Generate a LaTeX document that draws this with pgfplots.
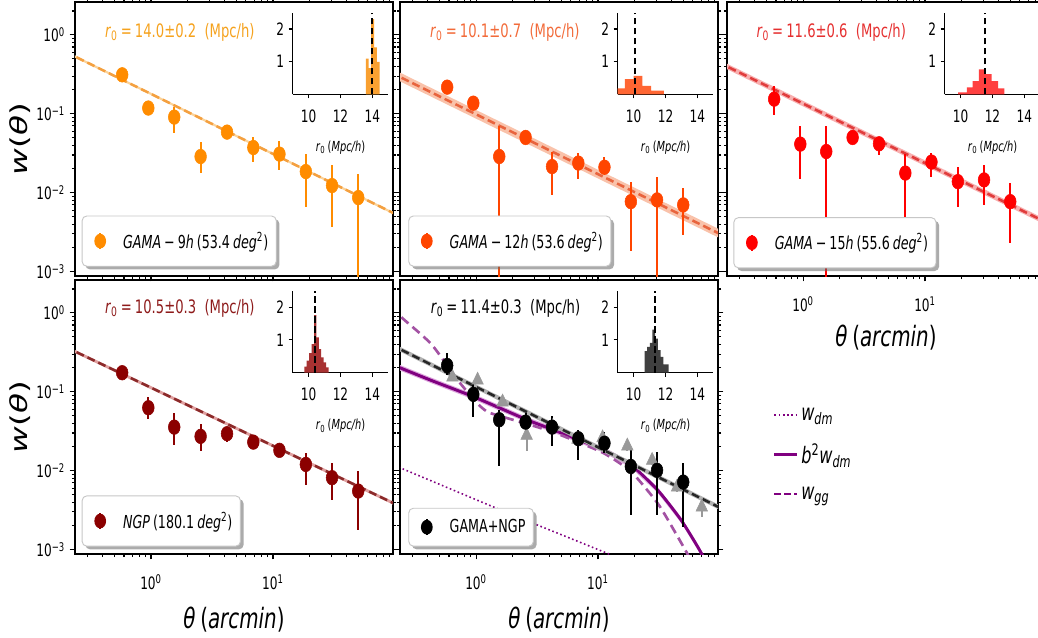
\documentclass[border=0pt]{standalone}
\usepackage{pgfplots}
\pgfplotsset{compat=1.18}
\usepackage{pgfplotstable}
\usetikzlibrary{shadows}
\usepackage{fontspec}
\setmainfont{DejaVu Sans}[FakeStretch=0.71]
\newfontfamily\yfont{DejaVu Sans}[FakeStretch=1.40]

\newcommand\ticksize{\fontsize{12.8}{14}\selectfont}
\newcommand\annsize{\fontsize{13.9}{16}\selectfont}
\newcommand\legsize{\fontsize{13.4}{16}\selectfont}
\newcommand\insize{\fontsize{10.4}{12}\selectfont}
\newcommand\labsize{\fontsize{21}{24}\selectfont}
\newcommand\ylabsize{\fontsize{17.5}{20}\selectfont}
\newcommand\modsize{\fontsize{17}{19}\selectfont}

\definecolor{c9}{HTML}{FF8C00}
\definecolor{c9t}{HTML}{F5A21E}
\definecolor{c9l}{HTML}{F4A040}
\definecolor{c9b}{HTML}{FBD39A}
\definecolor{c9h}{HTML}{F9A030}
\definecolor{c12}{HTML}{FF4500}
\definecolor{c12t}{HTML}{F26B3A}
\definecolor{c12l}{HTML}{E8643E}
\definecolor{c12b}{HTML}{F9C2AA}
\definecolor{c12h}{HTML}{FF6633}
\definecolor{c15}{HTML}{FF0000}
\definecolor{c15t}{HTML}{E53030}
\definecolor{c15l}{HTML}{E03C3C}
\definecolor{c15b}{HTML}{F8B0B0}
\definecolor{c15h}{HTML}{FF4040}
\definecolor{cN}{HTML}{8B0000}
\definecolor{cNt}{HTML}{8E1B1B}
\definecolor{cNl}{HTML}{8B2A2A}
\definecolor{cNb}{HTML}{E0A0A0}
\definecolor{cNh}{HTML}{A83232}
\definecolor{cAh}{HTML}{404040}
\definecolor{pur}{HTML}{800080}
\definecolor{purb}{HTML}{DDA6DD}
\definecolor{purd}{HTML}{A352A3}

\newcommand\rzero[2]{\textit{r}\textsubscript{0}\,=\,#1±#2\ \ (Mpc/h)}
\newcommand\ilab{\textit{r}\textsubscript{0}\,(\textit{Mpc/h})}
\newcommand\decade[1]{10\textsuperscript{#1}}

% w(theta): theta [arcmin], w, lower and upper end of the error bar
\pgfplotstableread{
x     y       lo       hi
0.58  0.311   0.28     0.345
0.95  0.118   0.10     0.135
1.55  0.0906  0.0568   0.123
2.55  0.0287  0.0177   0.0432
4.2   0.0585  0.050    0.066
6.9   0.0373  0.0244   0.0505
11.3  0.0308  0.0195   0.0445
18.6  0.0185  0.00667  0.031
30.5  0.0123  0.00372  0.0221
50    0.00867 0.0003   0.0173
}\gamaA
\pgfplotstableread{
x     y       lo       hi
0.58  0.217   0.195    0.24
0.95  0.136   0.122    0.15
1.55  0.0287  0.0003   0.0689
2.55  0.050   0.044    0.057
4.2   0.0214  0.00938  0.0332
6.9   0.0237  0.0148   0.0316
11.3  0.021   0.0185   0.0287
18.6  0.0077  0.00185  0.0138
30.5  0.0081  0.0003   0.0157
50    0.0070  0.00292  0.0114
}\gamaB
\pgfplotstableread{
x     y       lo       hi
0.58  0.153   0.0968   0.226
0.95  0.0412  0.0148   0.0689
1.55  0.0332  0.0003   0.0689
2.55  0.050   0.043    0.058
4.2   0.0416  0.0302   0.0505
6.9   0.0177  0.00475  0.031
11.3  0.0244  0.016    0.0322
18.6  0.0138  0.00667  0.0214
30.5  0.0145  0.0070   0.0225
50    0.0077  0.00229  0.0134
}\gamaC
\pgfplotstableread{
x     y       lo       hi
0.58  0.174   0.155    0.195
0.95  0.0627  0.0455   0.0855
1.55  0.0356  0.0209   0.0536
2.55  0.0272  0.0177   0.0385
4.2   0.0294  0.023    0.036
6.9   0.023   0.019    0.027
11.3  0.0181  0.015    0.021
18.6  0.012   0.00652  0.0167
30.5  0.00815 0.00421  0.0125
50    0.00552 0.00179  0.0098
}\ngp
\pgfplotstableread{
x     y       lo       hi
0.58  0.215   0.161    0.308
0.95  0.0925  0.0477   0.128
1.55  0.0442  0.0113   0.058
2.55  0.0412  0.0294   0.0536
4.2   0.0356  0.0203   0.0487
6.9   0.0254  0.0135   0.0324
11.3  0.0223  0.0167   0.0308
18.6  0.0113  0.00272  0.019
30.5  0.0101  0.00272  0.0172
50    0.00717 0.00193  0.0125
}\comb
\pgfplotstableread{
x     y       lo       hi
0.64  0.153   0.14     0.165
1.03  0.140   0.125    0.155
1.65  0.074   0.065    0.083
2.6   0.028   0.018    0.036
4.25  0.036   0.032    0.040
6.8   0.025   0.022    0.028
10.9  0.026   0.022    0.030
17.4  0.0205  0.018    0.023
27.8  0.0135  0.0118   0.0152
44.5  0.0062  0.0053   0.0072
71    0.00346 0.0026   0.0042
}\lit

% common look of the panels (no axis type keys in here)
\pgfplotsset{
  every axis/.append style={
    tick style={line width=0.8pt, black},
    axis line style={line width=0.9pt},
    tick label style={font=\ticksize},
  },
}

\begin{document}
\begin{tikzpicture}
\path[use as bounding box] (0pt,0pt) rectangle (778.5pt,-478.5pt);

% ---------------- GAMA-9h ----------------
\begin{axis}[xmode=log, ymode=log, scale only axis, width=238.5pt, height=205.5pt,
  xmin=0.238, xmax=96.4, ymin=8.8e-4, ymax=2.6,
  xtick={1,10}, ytick={0.001,0.01,0.1,1},
  minor xtick={0.3,0.4,0.5,0.6,0.7,0.8,0.9,2,3,4,5,6,7,8,9,20,30,40,50,60,70,80,90},
  minor ytick={0.002,0.003,0.004,0.005,0.006,0.007,0.008,0.009,0.02,0.03,0.04,0.05,0.06,0.07,0.08,0.09,0.2,0.3,0.4,0.5,0.6,0.7,0.8,0.9,2},
  xticklabels={}, yticklabels={\decade{−3},\decade{−2},\decade{−1},\decade{0}},
  tick align=outside, tick pos=both, major tick length=4pt, minor tick length=2.3pt,
  ylabel={\textit{w}(\textit{θ})},
  ylabel style={at={(axis description cs:-0.173,0.5)}, anchor=center, font=\yfont\ylabsize},
  legend cell align=left,
  legend style={draw=black!22, line width=0.7pt, fill=white, rounded corners=3.5pt,
    font=\legsize, inner xsep=4pt, inner ysep=10pt, anchor=south west, at={(0.021,0.034)},
    drop shadow={shadow xshift=2.4pt, shadow yshift=-2.4pt, fill=black!60, opacity=0.55}},
  at={(56.25pt,-1.5pt)}, anchor=north west]
\addplot[forget plot, fill=c9b, draw=none] coordinates {(0.2,0.584) (110,0.00484) (110,0.00519) (0.2,0.626)};
\addplot[forget plot, c9l, line width=1.9pt, dash pattern=on 6pt off 3pt] coordinates {(0.2,0.605) (110,0.00501)};
\addplot[only marks, mark=*, c9, mark size=4.4pt, mark options={yscale=1.25, draw=none, fill=c9},
  legend image code/.code={\path (0pt,-1pt) (24pt,1pt);
    \pgfsetlinewidth{1.5pt}\pgfsetstrokecolor{c9}\pgfsetfillcolor{c9}
    \pgfpathmoveto{\pgfpoint{9.2pt}{-6pt}}\pgfpathlineto{\pgfpoint{9.2pt}{6pt}}\pgfusepath{stroke}
    \pgfpathellipse{\pgfpoint{9.2pt}{0pt}}{\pgfpoint{4.4pt}{0pt}}{\pgfpoint{0pt}{5.5pt}}\pgfusepath{fill}},
  error bars/.cd, y dir=both, y explicit, error mark=none, error bar style={line width=1.5pt, c9}]
  table[x=x, y=y, y error plus expr=\thisrow{hi}-\thisrow{y}, y error minus expr=\thisrow{y}-\thisrow{lo}] {\gamaA};
\addlegendentry{\textit{GAMA}\,−\,9\textit{h}\,(53.4\,\textit{deg}\textsuperscript{2})}
\node[anchor=west, font=\annsize, text=c9t] at (axis description cs:0.08,0.89) {\rzero{14.0}{0.2}};
\end{axis}
\begin{axis}[scale only axis, width=71.7pt, height=61.2pt,
  xmin=9, xmax=15, ymin=0, ymax=2.5, axis x line*=bottom, axis y line*=left,
  xtick={10,12,14}, ytick={1,2}, xticklabels={10,12,14}, yticklabels={1,2},
  tick align=outside, major tick length=3pt, xticklabel style={yshift=-5pt},
  xlabel={\ilab}, xlabel style={at={(axis description cs:0.5,-0.65)}, anchor=center, font=\insize},
  at={(219.5pt,-9.5pt)}, anchor=north west]
\addplot[ybar interval, fill=c9h, draw=none] coordinates {(13.60,1.09) (13.77,0.8) (13.92,2.3) (14.12,1.44) (14.29,0.99) (14.46,0)};
\addplot[black, line width=1.5pt, dash pattern=on 5pt off 2.5pt] coordinates {(14.0,0) (14.0,2.5)};
\end{axis}

% ---------------- GAMA-12h ----------------
\begin{axis}[xmode=log, ymode=log, scale only axis, width=238.5pt, height=205.5pt,
  xmin=0.238, xmax=96.4, ymin=8.8e-4, ymax=2.6,
  xtick={1,10}, ytick={0.001,0.01,0.1,1},
  minor xtick={0.3,0.4,0.5,0.6,0.7,0.8,0.9,2,3,4,5,6,7,8,9,20,30,40,50,60,70,80,90},
  minor ytick={0.002,0.003,0.004,0.005,0.006,0.007,0.008,0.009,0.02,0.03,0.04,0.05,0.06,0.07,0.08,0.09,0.2,0.3,0.4,0.5,0.6,0.7,0.8,0.9,2},
  xticklabels={}, yticklabels={},
  tick align=outside, tick pos=both, major tick length=4pt, minor tick length=2.3pt,
  legend cell align=left,
  legend style={draw=black!22, line width=0.7pt, fill=white, rounded corners=3.5pt,
    font=\legsize, inner xsep=4pt, inner ysep=10pt, anchor=south west, at={(0.026,0.034)},
    drop shadow={shadow xshift=2.4pt, shadow yshift=-2.4pt, fill=black!60, opacity=0.55}},
  at={(300pt,-1.5pt)}, anchor=north west]
\addplot[forget plot, fill=c12b, draw=none] coordinates {(0.2,0.293) (110,0.00246) (110,0.00317) (0.2,0.378)};
\addplot[forget plot, c12l, line width=1.9pt, dash pattern=on 6pt off 3pt] coordinates {(0.2,0.333) (110,0.00279)};
\addplot[only marks, mark=*, c12, mark size=4.4pt, mark options={yscale=1.25, draw=none, fill=c12},
  legend image code/.code={\path (0pt,-1pt) (24pt,1pt);
    \pgfsetlinewidth{1.5pt}\pgfsetstrokecolor{c12}\pgfsetfillcolor{c12}
    \pgfpathmoveto{\pgfpoint{9.2pt}{-6pt}}\pgfpathlineto{\pgfpoint{9.2pt}{6pt}}\pgfusepath{stroke}
    \pgfpathellipse{\pgfpoint{9.2pt}{0pt}}{\pgfpoint{4.4pt}{0pt}}{\pgfpoint{0pt}{5.5pt}}\pgfusepath{fill}},
  error bars/.cd, y dir=both, y explicit, error mark=none, error bar style={line width=1.5pt, c12}]
  table[x=x, y=y, y error plus expr=\thisrow{hi}-\thisrow{y}, y error minus expr=\thisrow{y}-\thisrow{lo}] {\gamaB};
\addlegendentry{\textit{GAMA}\,−\,12\textit{h}\,(53.6\,\textit{deg}\textsuperscript{2})}
\node[anchor=west, font=\annsize, text=c12t] at (axis description cs:0.08,0.89) {\rzero{10.1}{0.7}};
\end{axis}
\begin{axis}[scale only axis, width=71.7pt, height=61.2pt,
  xmin=9, xmax=15, ymin=0, ymax=2.5, axis x line*=bottom, axis y line*=left,
  xtick={10,12,14}, ytick={1,2}, xticklabels={10,12,14}, yticklabels={1,2},
  tick align=outside, major tick length=3pt, xticklabel style={yshift=-5pt},
  xlabel={\ilab}, xlabel style={at={(axis description cs:0.5,-0.65)}, anchor=center, font=\insize},
  at={(463.3pt,-9.5pt)}, anchor=north west]
\addplot[ybar interval, fill=c12h, draw=none] coordinates {(8.9,0.18) (9.45,0.46) (10.0,0.56) (10.55,0.26) (11.1,0.11) (11.5,0.11) (11.9,0)};
\addplot[black, line width=1.5pt, dash pattern=on 5pt off 2.5pt] coordinates {(10.1,0) (10.1,2.5)};
\end{axis}

% ---------------- GAMA-15h ----------------
\begin{axis}[xmode=log, ymode=log, scale only axis, width=238.5pt, height=205.5pt,
  xmin=0.238, xmax=96.4, ymin=8.8e-4, ymax=2.6,
  xtick={1,10}, ytick={0.001,0.01,0.1,1},
  minor xtick={0.3,0.4,0.5,0.6,0.7,0.8,0.9,2,3,4,5,6,7,8,9,20,30,40,50,60,70,80,90},
  minor ytick={0.002,0.003,0.004,0.005,0.006,0.007,0.008,0.009,0.02,0.03,0.04,0.05,0.06,0.07,0.08,0.09,0.2,0.3,0.4,0.5,0.6,0.7,0.8,0.9,2},
  xticklabels={\decade{0},\decade{1}}, yticklabels={},
  xticklabel style={yshift=-8pt},
  tick align=outside, tick pos=both, major tick length=4pt, minor tick length=2.3pt,
  xlabel={\textit{θ}\,(\textit{arcmin})},
  xlabel style={at={(axis description cs:0.5,-0.226)}, anchor=center, font=\labsize},
  legend cell align=left,
  legend style={draw=black!22, line width=0.7pt, fill=white, rounded corners=3.5pt,
    font=\legsize, inner xsep=4pt, inner ysep=10pt, anchor=south west, at={(0.02,0.028)},
    drop shadow={shadow xshift=2.4pt, shadow yshift=-2.4pt, fill=black!60, opacity=0.55}},
  at={(545.25pt,-1.5pt)}, anchor=north west]
\addplot[forget plot, fill=c15b, draw=none] coordinates {(0.2,0.417) (110,0.00358) (110,0.00421) (0.2,0.490)};
\addplot[forget plot, c15l, line width=1.9pt, dash pattern=on 6pt off 3pt] coordinates {(0.2,0.452) (110,0.00388)};
\addplot[only marks, mark=*, c15, mark size=4.4pt, mark options={yscale=1.25, draw=none, fill=c15},
  legend image code/.code={\path (0pt,-1pt) (24pt,1pt);
    \pgfsetlinewidth{1.5pt}\pgfsetstrokecolor{c15}\pgfsetfillcolor{c15}
    \pgfpathmoveto{\pgfpoint{9.2pt}{-6pt}}\pgfpathlineto{\pgfpoint{9.2pt}{6pt}}\pgfusepath{stroke}
    \pgfpathellipse{\pgfpoint{9.2pt}{0pt}}{\pgfpoint{4.4pt}{0pt}}{\pgfpoint{0pt}{5.5pt}}\pgfusepath{fill}},
  error bars/.cd, y dir=both, y explicit, error mark=none, error bar style={line width=1.5pt, c15}]
  table[x=x, y=y, y error plus expr=\thisrow{hi}-\thisrow{y}, y error minus expr=\thisrow{y}-\thisrow{lo}] {\gamaC};
\addlegendentry{\textit{GAMA}\,−\,15\textit{h}\,(55.6\,\textit{deg}\textsuperscript{2})}
\node[anchor=west, font=\annsize, text=c15t] at (axis description cs:0.078,0.89) {\rzero{11.6}{0.6}};
\end{axis}
\begin{axis}[scale only axis, width=71.7pt, height=61.2pt,
  xmin=9, xmax=15, ymin=0, ymax=2.5, axis x line*=bottom, axis y line*=left,
  xtick={10,12,14}, ytick={1,2}, xticklabels={10,12,14}, yticklabels={1,2},
  tick align=outside, major tick length=3pt, xticklabel style={yshift=-5pt},
  xlabel={\ilab}, xlabel style={at={(axis description cs:0.5,-0.65)}, anchor=center, font=\insize},
  at={(708.5pt,-9.5pt)}, anchor=north west]
\addplot[ybar interval, fill=c15h, draw=none] coordinates {(9.85,0.06) (10.4,0.21) (10.75,0.4) (11.15,0.76) (11.55,0.62) (11.95,0.4) (12.35,0.18) (12.75,0)};
\addplot[black, line width=1.5pt, dash pattern=on 5pt off 2.5pt] coordinates {(11.55,0) (11.55,2.5)};
\end{axis}

% ---------------- NGP ----------------
\begin{axis}[xmode=log, ymode=log, scale only axis, width=238.5pt, height=205.5pt,
  xmin=0.238, xmax=96.4, ymin=8.8e-4, ymax=2.6,
  xtick={1,10}, ytick={0.001,0.01,0.1,1},
  minor xtick={0.3,0.4,0.5,0.6,0.7,0.8,0.9,2,3,4,5,6,7,8,9,20,30,40,50,60,70,80,90},
  minor ytick={0.002,0.003,0.004,0.005,0.006,0.007,0.008,0.009,0.02,0.03,0.04,0.05,0.06,0.07,0.08,0.09,0.2,0.3,0.4,0.5,0.6,0.7,0.8,0.9,2},
  xticklabels={\decade{0},\decade{1}}, yticklabels={\decade{−3},\decade{−2},\decade{−1},\decade{0}},
  xticklabel style={yshift=-8pt},
  tick align=outside, tick pos=both, major tick length=4pt, minor tick length=2.3pt,
  xlabel={\textit{θ}\,(\textit{arcmin})},
  xlabel style={at={(axis description cs:0.5,-0.24)}, anchor=center, font=\labsize},
  ylabel={\textit{w}(\textit{θ})},
  ylabel style={at={(axis description cs:-0.173,0.5)}, anchor=center, font=\yfont\ylabsize},
  legend cell align=left,
  legend style={draw=black!22, line width=0.7pt, fill=white, rounded corners=3.5pt,
    font=\legsize, inner xsep=4pt, inner ysep=10pt, anchor=south west, at={(0.021,0.027)},
    drop shadow={shadow xshift=2.4pt, shadow yshift=-2.4pt, fill=black!60, opacity=0.55}},
  at={(56.25pt,-210pt)}, anchor=north west]
\addplot[forget plot, fill=cNb, draw=none] coordinates {(0.2,0.351) (110,0.00338) (110,0.00371) (0.2,0.385)};
\addplot[forget plot, cNl, line width=1.9pt, dash pattern=on 6pt off 3pt] coordinates {(0.2,0.368) (110,0.00354)};
\addplot[only marks, mark=*, cN, mark size=4.4pt, mark options={yscale=1.25, draw=none, fill=cN},
  legend image code/.code={\path (0pt,-1pt) (24pt,1pt);
    \pgfsetlinewidth{1.5pt}\pgfsetstrokecolor{cN}\pgfsetfillcolor{cN}
    \pgfpathmoveto{\pgfpoint{9.2pt}{-6pt}}\pgfpathlineto{\pgfpoint{9.2pt}{6pt}}\pgfusepath{stroke}
    \pgfpathellipse{\pgfpoint{9.2pt}{0pt}}{\pgfpoint{4.4pt}{0pt}}{\pgfpoint{0pt}{5.5pt}}\pgfusepath{fill}},
  error bars/.cd, y dir=both, y explicit, error mark=none, error bar style={line width=1.5pt, cN}]
  table[x=x, y=y, y error plus expr=\thisrow{hi}-\thisrow{y}, y error minus expr=\thisrow{y}-\thisrow{lo}] {\ngp};
\addlegendentry{\textit{NGP}\,(180.1\,\textit{deg}\textsuperscript{2})}
\node[anchor=west, font=\annsize, text=cNt] at (axis description cs:0.08,0.895) {\rzero{10.5}{0.3}};
\end{axis}
\begin{axis}[scale only axis, width=71.7pt, height=61.2pt,
  xmin=9, xmax=15, ymin=0, ymax=2.5, axis x line*=bottom, axis y line*=left,
  xtick={10,12,14}, ytick={1,2}, xticklabels={10,12,14}, yticklabels={1,2},
  tick align=outside, major tick length=3pt, xticklabel style={yshift=-5pt},
  xlabel={\ilab}, xlabel style={at={(axis description cs:0.5,-0.65)}, anchor=center, font=\insize},
  at={(219.5pt,-218.25pt)}, anchor=north west]
\addplot[ybar interval, fill=cNh, draw=none] coordinates {(9.73,0.18) (9.88,0.37) (10.03,0.6) (10.19,0.87) (10.34,1.76) (10.49,1.08) (10.64,0.72) (10.79,0.47) (10.95,0.31) (11.10,0.16) (11.25,0)};
\addplot[black, line width=1.5pt, dash pattern=on 5pt off 2.5pt] coordinates {(10.42,0) (10.42,2.5)};
\end{axis}

% ---------------- GAMA+NGP with model curves ----------------
\begin{axis}[xmode=log, ymode=log, scale only axis, width=238.5pt, height=205.5pt,
  xmin=0.238, xmax=96.4, ymin=8.8e-4, ymax=2.6,
  xtick={1,10}, ytick={0.001,0.01,0.1,1},
  minor xtick={0.3,0.4,0.5,0.6,0.7,0.8,0.9,2,3,4,5,6,7,8,9,20,30,40,50,60,70,80,90},
  minor ytick={0.002,0.003,0.004,0.005,0.006,0.007,0.008,0.009,0.02,0.03,0.04,0.05,0.06,0.07,0.08,0.09,0.2,0.3,0.4,0.5,0.6,0.7,0.8,0.9,2},
  xticklabels={\decade{0},\decade{1}}, yticklabels={},
  xticklabel style={yshift=-8pt},
  tick align=outside, tick pos=both, major tick length=4pt, minor tick length=2.3pt,
  xlabel={\textit{θ}\,(\textit{arcmin})},
  xlabel style={at={(axis description cs:0.5,-0.24)}, anchor=center, font=\labsize},
  legend cell align=left,
  legend style={draw=black!22, line width=0.7pt, fill=white, rounded corners=3.5pt,
    font=\legsize, inner xsep=4pt, inner ysep=6.5pt, anchor=south west, at={(0.026,0.027)},
    drop shadow={shadow xshift=2.4pt, shadow yshift=-2.4pt, fill=black!60, opacity=0.55}},
  at={(300pt,-210pt)}, anchor=north west]
% dark matter correlation
\addplot[forget plot, pur, line width=1.2pt, dash pattern=on 1.2pt off 2pt]
  coordinates {(0.2,0.0122) (1.83,0.0029) (12.1,0.00089) (16,0.00065)};
% b^2 w_dm with its uncertainty band
\addplot[forget plot, fill=purb, draw=none] coordinates {
  (0.2,0.2066) (0.43,0.1282) (0.97,0.0789) (2.58,0.0411) (4.28,0.0304) (6.86,0.0228)
  (11.35,0.0167) (18.8,0.0108) (31,0.00519) (48.2,0.00217) (68.3,0.000904) (85,0.00047)
  (85,0.00055) (68.3,0.00106) (48.2,0.00255) (31,0.0061) (18.8,0.01268) (11.35,0.0196)
  (6.86,0.0268) (4.28,0.0358) (2.58,0.0482) (0.97,0.0927) (0.43,0.1507) (0.2,0.2428)};
\addplot[forget plot, pur, line width=2.2pt, smooth, tension=0.4] coordinates {
  (0.2,0.224) (0.43,0.139) (0.97,0.0855) (2.58,0.0445) (4.28,0.033) (6.86,0.0247)
  (11.35,0.0181) (18.8,0.0117) (31,0.00563) (48.2,0.00235) (68.3,0.00098) (85,0.00051)};
% galaxy-galaxy model
\addplot[forget plot, purd, line width=2pt, dash pattern=on 7pt off 4pt, smooth, tension=0.4] coordinates {
  (0.2,1.18) (0.252,0.84) (0.43,0.40) (0.711,0.139) (0.975,0.0776) (1.1,0.064) (1.25,0.0552)
  (1.51,0.0501) (2.58,0.0394) (4.28,0.0308) (6.86,0.023) (11.35,0.0164) (18.8,0.0096)
  (31,0.00382) (43.5,0.0016) (54,0.00089) (62,0.0006)};
% power-law fit
\addplot[forget plot, fill=black!30, draw=none] coordinates {(0.2,0.368) (110,0.00295) (110,0.00339) (0.2,0.423)};
\addplot[forget plot, black!85, line width=1.9pt, dash pattern=on 6pt off 3pt] coordinates {(0.2,0.395) (110,0.00316)};
% comparison measurement
\addplot[forget plot, only marks, mark=triangle*, black!40, mark size=5pt,
  mark options={yscale=1.2, draw=none, fill=black!40},
  error bars/.cd, y dir=both, y explicit, error mark=none,
  error bar style={line width=1.3pt, black!40}]
  table[x=x, y=y, y error plus expr=\thisrow{hi}-\thisrow{y}, y error minus expr=\thisrow{y}-\thisrow{lo}] {\lit};
\addplot[only marks, mark=*, black, mark size=4.4pt, mark options={yscale=1.25, draw=none, fill=black},
  legend image code/.code={\path (0pt,-1pt) (24pt,1pt);
    \pgfsetlinewidth{1.5pt}\pgfsetstrokecolor{black}\pgfsetfillcolor{black}
    \pgfpathmoveto{\pgfpoint{9.2pt}{-6pt}}\pgfpathlineto{\pgfpoint{9.2pt}{6pt}}\pgfusepath{stroke}
    \pgfpathellipse{\pgfpoint{9.2pt}{0pt}}{\pgfpoint{4.4pt}{0pt}}{\pgfpoint{0pt}{5.5pt}}\pgfusepath{fill}},
  error bars/.cd, y dir=both, y explicit, error mark=none, error bar style={line width=1.5pt, black}]
  table[x=x, y=y, y error plus expr=\thisrow{hi}-\thisrow{y}, y error minus expr=\thisrow{y}-\thisrow{lo}] {\comb};
\addlegendentry{GAMA+NGP}
\node[anchor=west, font=\annsize, text=black] at (axis description cs:0.082,0.895) {\rzero{11.4}{0.3}};
\end{axis}
\begin{axis}[scale only axis, width=71.7pt, height=61.2pt,
  xmin=9, xmax=15, ymin=0, ymax=2.5, axis x line*=bottom, axis y line*=left,
  xtick={10,12,14}, ytick={1,2}, xticklabels={10,12,14}, yticklabels={1,2},
  tick align=outside, major tick length=3pt, xticklabel style={yshift=-5pt},
  xlabel={\ilab}, xlabel style={at={(axis description cs:0.5,-0.65)}, anchor=center, font=\insize},
  at={(463.3pt,-218.25pt)}, anchor=north west]
\addplot[ybar interval, fill=cAh, draw=none] coordinates {(10.68,0.66) (10.85,0.79) (11.02,0.91) (11.18,1.32) (11.35,1.04) (11.52,0.69) (11.69,0.48) (11.86,0.25) (12.02,0.25) (12.19,0)};
\addplot[black, line width=1.5pt, dash pattern=on 5pt off 2.5pt] coordinates {(11.35,0) (11.35,2.5)};
\end{axis}

% ---------------- key for the model curves ----------------
\begin{axis}[hide axis, scale only axis, width=10pt, height=10pt,
  xmin=0, xmax=1, ymin=0, ymax=1, at={(579.5pt,-303.5pt)}, anchor=north west,
  legend cell align=left,
  legend style={at={(0,1)}, anchor=north west, draw=none, fill=none, inner sep=0pt,
    row sep=12pt, font=\modsize}]
\addlegendimage{pur, line width=1.2pt, dash pattern=on 1.2pt off 2pt}
\addlegendentry{\textit{w}\textsubscript{\textit{dm}}}
\addlegendimage{pur, line width=2.2pt}
\addlegendentry{\textit{b}\textsuperscript{2}\textit{w}\textsubscript{\textit{dm}}}
\addlegendimage{pur, line width=2pt, dash pattern=on 5pt off 2.5pt}
\addlegendentry{\textit{w}\textsubscript{\textit{gg}}}
\end{axis}
\end{tikzpicture}
\end{document}
